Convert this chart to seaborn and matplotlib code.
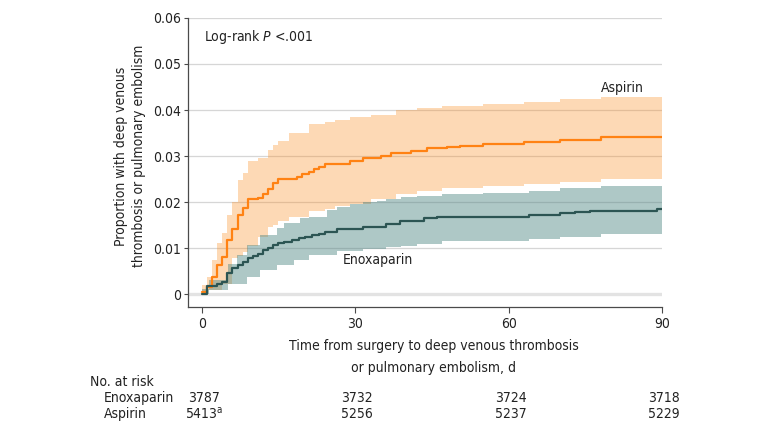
import numpy as np
import pandas as pd
import matplotlib
matplotlib.use('Agg')
import matplotlib.pyplot as plt
import matplotlib.transforms as mtransforms
import seaborn as sns

# Kaplan-Meier curves (day of step, cumulative proportion)
asp_days = [0, 1, 2, 3, 4, 5, 6, 7, 8, 9, 11, 12, 13, 14, 15, 18.6, 19.6, 21, 22,
            23, 24, 29, 31.6, 35, 37, 41, 44, 48, 50.5, 55, 63, 70, 78, 90]
asp_est = [0.0005, 0.0016, 0.0038, 0.0063, 0.0081, 0.0117, 0.0141, 0.0172, 0.0186,
           0.0206, 0.0208, 0.0217, 0.0228, 0.0241, 0.0251, 0.0255, 0.0262, 0.0266,
           0.0271, 0.0277, 0.0283, 0.0290, 0.0295, 0.0300, 0.0306, 0.0312, 0.0317,
           0.0320, 0.0322, 0.0326, 0.0330, 0.0335, 0.0341, 0.0341]

asp_ci_days = [0, 1, 2, 3, 4, 5, 6, 7, 8, 9, 11, 13, 14, 15, 17, 21, 24, 26, 29,
               33, 38, 42, 47, 55, 63, 70, 78, 90]
asp_upper = [0.0020, 0.0038, 0.0074, 0.0110, 0.0132, 0.0172, 0.0201, 0.0248, 0.0264,
             0.0290, 0.0295, 0.0313, 0.0324, 0.0333, 0.0349, 0.0370, 0.0375, 0.0379,
             0.0385, 0.0390, 0.0400, 0.0405, 0.0409, 0.0414, 0.0417, 0.0424, 0.0429,
             0.0429]
asp_lower = [0.0, 0.0009, 0.0009, 0.0009, 0.0023, 0.0023, 0.0078, 0.0082, 0.0092,
             0.0105, 0.0125, 0.0145, 0.0150, 0.0158, 0.0168, 0.0180, 0.0185, 0.0192,
             0.0196, 0.0206, 0.0218, 0.0225, 0.0230, 0.0235, 0.0239, 0.0244, 0.0250,
             0.0250]

enox_days = [0, 1, 3, 4, 5, 6, 7, 8, 9, 10, 11, 12, 13, 14, 15, 16, 17.6, 19, 20.2,
             21.5, 23, 24, 26.4, 31.6, 36, 38.8, 43.4, 46, 64, 70, 73, 76, 89, 90]
enox_est = [0.0, 0.0017, 0.0023, 0.0027, 0.0045, 0.0056, 0.0063, 0.0070, 0.0078,
            0.0083, 0.0088, 0.0096, 0.0101, 0.0107, 0.0110, 0.0114, 0.0117, 0.0121,
            0.0124, 0.0128, 0.0131, 0.0135, 0.0141, 0.0146, 0.0152, 0.0159, 0.0165,
            0.0168, 0.0172, 0.0176, 0.0179, 0.0180, 0.0184, 0.0184]

enox_ci_days = [0, 1.5, 4, 5.2, 6.8, 8.8, 11.4, 14.7, 16, 18, 19.2, 21, 24.5, 26.4,
                29, 31.6, 34.2, 36, 39, 42, 47, 55, 64, 70, 78, 90]
enox_upper = [0.0010, 0.0030, 0.0030, 0.0066, 0.0085, 0.0107, 0.0128, 0.0143, 0.0154,
              0.0154, 0.0165, 0.0168, 0.0183, 0.0190, 0.0196, 0.0200, 0.0203, 0.0207,
              0.0210, 0.0214, 0.0217, 0.0219, 0.0225, 0.0230, 0.0235, 0.0235]
enox_lower = [0.0, 0.0009, 0.0009, 0.0023, 0.0023, 0.0038, 0.0052, 0.0063, 0.0063,
              0.0074, 0.0074, 0.0085, 0.0085, 0.0094, 0.0094, 0.0099, 0.0099, 0.0103,
              0.0104, 0.0108, 0.0115, 0.0115, 0.0119, 0.0125, 0.0130, 0.0130]

# number at risk table
risk_days = [0, 30, 60, 90]
risk_enox = ['3787', '3732', '3724', '3718']
risk_asp = ['5413$^{\\mathregular{a}}$', '5256', '5237', '5229']

yticks = [0, 0.01, 0.02, 0.03, 0.04, 0.05, 0.06]
ytick_labels = ['0', '0.01', '0.02', '0.03', '0.04', '0.05', '0.06']
xticks = [0, 30, 60, 90]

ORANGE = '#ff8213'
TEAL = '#2c5553'
TXT = '#222222'
FS = 10

sns.set_theme(style='white')
plt.rcParams['font.family'] = ['DejaVu Sans']
plt.rcParams['font.stretch'] = 'condensed'
plt.rcParams['mathtext.fontset'] = 'custom'
plt.rcParams['mathtext.rm'] = 'DejaVu Sans:stretch=condensed'
plt.rcParams['mathtext.it'] = 'DejaVu Sans:italic:stretch=condensed'

fig = plt.figure(figsize=(7.8, 4.32), dpi=100)
ax = fig.add_axes([0.241, 0.2894, 0.6077, 0.669])

# confidence bands
ax.fill_between(asp_ci_days, asp_lower, asp_upper, step='post',
                color='#fb8c1f', alpha=0.33, lw=0, zorder=1)
ax.fill_between(enox_ci_days, enox_lower, enox_upper, step='post',
                color='#4d8582', alpha=0.45, lw=0, zorder=2)

# KM curves
sns.lineplot(x=asp_days, y=asp_est, drawstyle='steps-post', color=ORANGE,
             lw=1.6, estimator=None, ax=ax, zorder=4)
sns.lineplot(x=enox_days, y=enox_est, drawstyle='steps-post', color=TEAL,
             lw=1.6, estimator=None, ax=ax, zorder=4)

ax.set_xlim(-2.7, 90)
ax.set_ylim(-0.0028, 0.06)
ax.set_xticks(xticks)
ax.set_yticks(yticks)
ax.set_yticklabels(ytick_labels)

ax.set_axisbelow(True)
ax.yaxis.grid(True, color='#d6d6d6', lw=0.9)
ax.xaxis.grid(False)
ax.axhline(0, color='#e3e3e3', lw=2.4, zorder=0.6)

sns.despine(ax=ax)
for s in ['left', 'bottom']:
    ax.spines[s].set_color('#4a4a4a')
    ax.spines[s].set_linewidth(0.9)

ax.tick_params(axis='x', which='major', bottom=True, length=4, width=0.8,
               color='#4a4a4a', pad=3, labelsize=FS, labelcolor=TXT)
ax.tick_params(axis='y', which='major', left=True, length=3, width=0.8,
               color='#4a4a4a', pad=2, labelsize=FS, labelcolor=TXT)

ax.set_xlabel('Time from surgery to deep venous thrombosis\nor pulmonary embolism, d',
              fontsize=FS, color=TXT, linespacing=1.7)
ax.xaxis.set_label_coords(0.519, -0.112)
ax.set_ylabel('Proportion with deep venous\nthrombosis or pulmonary embolism',
              fontsize=FS, color=TXT, linespacing=1.35)
ax.yaxis.set_label_coords(-0.088, 0.522)

ax.text(0.034, 0.934, 'Log-rank $\\it{P}$ <.001', transform=ax.transAxes,
        fontsize=FS, color=TXT, va='center', ha='left')
ax.text(82.3, 0.0448, 'Aspirin', fontsize=FS, color=TXT, ha='center', va='center')
ax.text(27.6, 0.0074, 'Enoxaparin', fontsize=FS, color=TXT, ha='left', va='center')

# at-risk table under the plot
trans = mtransforms.blended_transform_factory(ax.transData, fig.transFigure)
fig.text(90 / 780, 1 - 382 / 432, 'No. at risk', fontsize=FS, color=TXT,
         ha='left', va='center')
fig.text(103.5 / 780, 1 - 398 / 432, 'Enoxaparin', fontsize=FS, color=TXT,
         ha='left', va='center')
fig.text(103.5 / 780, 1 - 414 / 432, 'Aspirin', fontsize=FS, color=TXT,
         ha='left', va='center')
for d, e, a in zip(risk_days, risk_enox, risk_asp):
    ax.text(d + 0.4, 1 - 398 / 432, e, transform=trans, fontsize=FS, color=TXT,
            ha='center', va='center', clip_on=False)
    ax.text(d + 0.4, 1 - 414 / 432, a, transform=trans, fontsize=FS, color=TXT,
            ha='center', va='center', clip_on=False)

fig.savefig('out.png', dpi=100)
